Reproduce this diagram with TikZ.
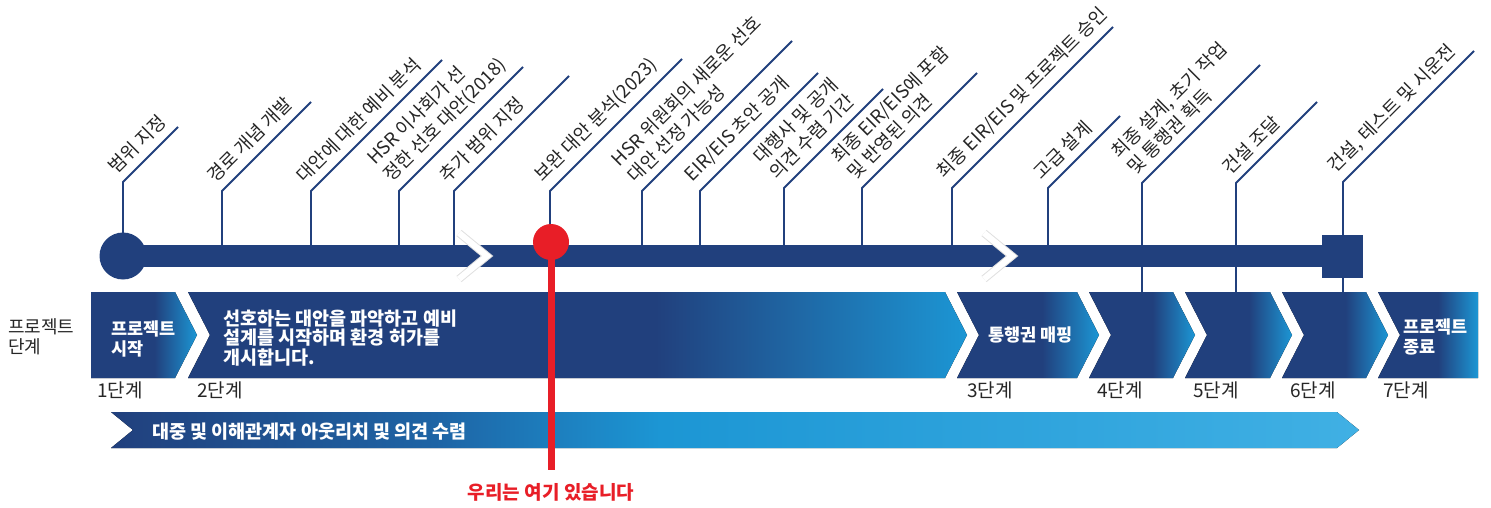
\documentclass[tikz,border=0pt]{standalone}
\usepackage{fontspec}
\setmainfont{Noto Sans CJK KR}
\usetikzlibrary{calc}
\definecolor{navy}{RGB}{33,64,125}
\definecolor{lblue}{RGB}{28,150,212}
\definecolor{midblue}{RGB}{30,100,165}
\definecolor{skyblue}{RGB}{64,176,228}
\definecolor{markred}{RGB}{232,30,39}
\pgfdeclarehorizontalshading{phase}{100bp}{color(0bp)=(navy); color(25bp)=(navy); color(55bp)=(navy); color(75bp)=(lblue); color(100bp)=(lblue)}
\pgfdeclarehorizontalshading{outreach}{100bp}{color(0bp)=(navy); color(25bp)=(navy); color(38bp)=(midblue); color(47bp)=(lblue); color(75bp)=(skyblue); color(100bp)=(skyblue)}
\newcommand{\phasechev}[2]{%
  \fill [shading=phase] (#1,292) -- (#2,292) -- ($(#2,335)+(22,0)$) -- (#2,378) -- (#1,378) -- ($(#1,335)+(22,0)$) -- cycle;
}
\tikzstyle{tick} = [draw=navy, line width=1.8pt]
\tikzstyle{lbl} = [sloped, pos=0, anchor=south west, align=left, inner sep=0pt, outer ysep=8pt, text=black!85, font=\fontsize{18.5}{23}\selectfont]
\tikzstyle{phasetxt} = [anchor=west, align=left, inner sep=0pt, text=white, font=\fontsize{17.5}{20}\selectfont\bfseries]
\tikzstyle{stage} = [anchor=west, inner sep=0pt, text=black!85, font=\fontsize{19}{20}\selectfont]
\tikzstyle{notch} = [line width=6pt, white]

\begin{document}
\begin{tikzpicture}[x=1pt, y=-1pt]
    \useasboundingbox (0,0) rectangle (1491,508);

    % milestones above the line
    \coordinate (t1) at (123,256);
    \coordinate (t2) at (222,256);
    \coordinate (t3) at (311,256);
    \coordinate (t4) at (399,256);
    \coordinate (t5) at (454,256);
    \coordinate (t6) at (550,256);
    \coordinate (t7) at (642,256);
    \coordinate (t8) at (700,256);
    \coordinate (t9) at (784,256);
    \coordinate (t10) at (862,256);
    \coordinate (t11) at (952,256);
    \coordinate (t12) at (1048,256);
    \coordinate (t13) at (1142,256);
    \coordinate (t14) at (1236,256);
    \coordinate (t15) at (1343,256);

    \draw [tick] (t1) -- (123,182) -- node (l1) [lbl] {범위 지정} ++(55,-55);
    \draw [tick] (t2) -- (222,191) -- node (l2) [lbl] {경로 개념 개발} ++(89,-89);
    \draw [tick] (t3) -- (311,191) -- node (l3) [lbl] {대안에 대한 예비 분석} ++(131,-131);
    \draw [tick] (t4) -- (399,191) -- node (l4) [lbl] {HSR 이사회가 선\\정한 선호 대안(2018)} ++(124,-124);
    \draw [tick] (t5) -- (454,191) -- node (l5) [lbl] {추가 범위 지정} ++(115,-115);
    \draw [tick] (t6) -- (550,191) -- node (l6) [lbl] {보완 대안 분석(2023)} ++(132,-132);
    \draw [tick] (t7) -- (642,191) -- node (l7) [lbl] {HSR 위원회의 새로운 선호\\대안 선정 가능성} ++(150,-150);
    \draw [tick] (t8) -- (700,191) -- node (l8) [lbl] {EIR/EIS 초안 공개} ++(118,-118);
    \draw [tick] (t9) -- (784,188) -- node (l9) [lbl] {대행사 및 공개\\의견 수렴 기간} ++(99,-99);
    \draw [tick] (t10) -- (862,188) -- node (l10) [lbl] {최종 EIR/EIS에 포함\\및 반영된 의견} ++(115,-115);
    \draw [tick] (t11) -- (952,188) -- node (l11) [lbl] {최종 EIR/EIS 및 프로젝트 승인} ++(161,-161);
    \draw [tick] (t12) -- (1048,188) -- node (l12) [lbl] {고급 설계} ++(72,-72);
    \draw [tick] (t13) -- (1142,183) -- node (l13) [lbl] {최종 설계, 초기 작업\\및 통행권 획득} ++(118,-118);
    \draw [tick] (t14) -- (1236,183) -- node (l14) [lbl] {건설 조달} ++(81,-81);
    \draw [tick] (t15) -- (1343,182) -- node (l15) [lbl] {건설, 테스트 및 시운전} ++(131,-131);
    \draw [tick] (t13) -- (1142,292);
    \draw [tick] (t14) -- (1236,292);
    \draw [tick] (t15) -- (1343,292);

    % the line
    \fill [navy] (123,245) rectangle (1322,267);
    \fill [navy] (t1) circle (23.5);
    \fill [navy] (1322,235) rectangle (1363,278);
    \draw [notch, black!12, line width=8pt] (459,233) -- (487,256) -- (459,279);
    \draw [notch] (459,233) -- (487,256) -- (459,279);
    \draw [notch, black!12, line width=8pt] (984,233) -- (1012,256) -- (984,279);
    \draw [notch] (984,233) -- (1012,256) -- (984,279);

    % phases
    \node (phases) [anchor=west, align=left, inner sep=0pt, text=black!85, font=\fontsize{18}{20}\selectfont] at (8,337) {프로젝트\\단계};
    \fill [shading=phase] (91,292) -- (175,292) -- (197,335) -- (175,378) -- (91,378) -- cycle;
    \phasechev{188}{945}
    \phasechev{957}{1077}
    \phasechev{1089}{1173}
    \phasechev{1185}{1270}
    \phasechev{1282}{1366}
    \fill [shading=phase] (1378,292) -- (1478,292) -- (1478,378) -- (1378,378) -- (1400,335) -- cycle;

    \node (p1) [phasetxt] at (111,339) {프로젝트\\시작};
    \node (p2) [phasetxt, font=\fontsize{18.5}{19.5}\selectfont\bfseries] at (223,338) {선호하는 대안을 파악하고 예비\\설계를 시작하며 환경 허가를\\개시합니다.};
    \node (p3) [phasetxt] at (988,335) {통행권 매핑};
    \node (p7) [phasetxt] at (1403,337) {프로젝트\\종료};

    \node (s1) [stage] at (97,390) {1단계};
    \node (s2) [stage] at (197,390) {2단계};
    \node (s3) [stage] at (967,390) {3단계};
    \node (s4) [stage] at (1097,390) {4단계};
    \node (s5) [stage] at (1193,390) {5단계};
    \node (s6) [stage] at (1290,390) {6단계};
    \node (s7) [stage] at (1383,390) {7단계};

    % outreach
    \fill [shading=outreach] (111,412) -- (1337,412) -- (1359,430) -- (1337,448) -- (111,448) -- (133,430) -- cycle;
    \node (outreach) [phasetxt, font=\fontsize{18.5}{20}\selectfont\bfseries] at (152,432) {대중 및 이해관계자 아웃리치 및 의견 수렴};

    % we are here
    \coordinate (here) at (551,242);
    \draw [markred, line width=7pt] (here) -- (551,470);
    \fill [markred] (here) circle (18);
    \node (heretxt) [text=markred, font=\fontsize{19}{20}\selectfont\bfseries] at (551,492) {우리는 여기 있습니다};
\end{tikzpicture}
\end{document}
